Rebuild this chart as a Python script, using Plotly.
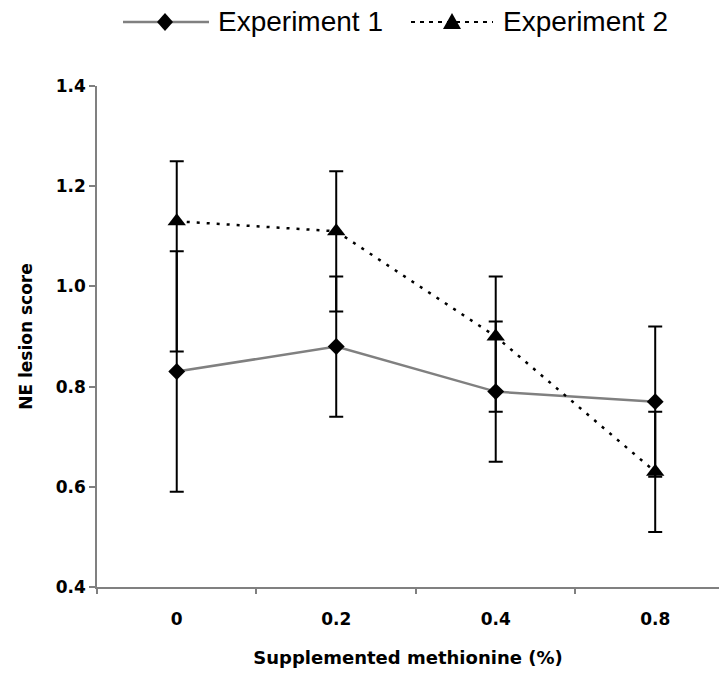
import plotly.graph_objects as go

categories = ["0", "0.2", "0.4", "0.8"]
exp1 = [0.83, 0.88, 0.79, 0.77]
exp1_err_plus = [0.24, 0.14, 0.14, 0.15]
exp1_err_minus = [0.24, 0.14, 0.14, 0.15]
exp2 = [1.13, 1.11, 0.90, 0.63]
exp2_err_plus = [0.12, 0.12, 0.12, 0.12]
exp2_err_minus = [0.26, 0.16, 0.15, 0.12]
series_names = ["Experiment 1", "Experiment 2"]
y_ticks = [0.4, 0.6, 0.8, 1.0, 1.2, 1.4]

W, H = 719, 677
L, R, T, B = 97, 0, 86, 90
FONT = "Liberation Sans, Arial, sans-serif"
BFONT = "DejaVu Sans, Arial, sans-serif"

fig = go.Figure()
fig.add_trace(go.Scatter(
    x=categories, y=exp1, mode="lines+markers", name=series_names[0],
    line=dict(color="#808080", width=2.5),
    marker=dict(symbol="diamond", size=13, color="black"),
    error_y=dict(type="data", array=exp1_err_plus, arrayminus=exp1_err_minus,
                 color="black", thickness=2, width=7),
    showlegend=False,
))
fig.add_trace(go.Scatter(
    x=categories, y=exp2, mode="lines+markers", name=series_names[1],
    line=dict(color="black", width=2.5, dash="3px,7px"),
    marker=dict(symbol="triangle-up", size=16, color="black"),
    error_y=dict(type="data", array=exp2_err_plus, arrayminus=exp2_err_minus,
                 color="black", thickness=2, width=7),
    showlegend=False,
))

pw = W - L - R
ph = H - T - B

def px2x(p):
    return (p - L) / pw

def py2y(p):
    return (H - B - p) / ph

ly = py2y(22)
shapes = []
annotations = []
# legend item 1
shapes.append(dict(type="line", xref="paper", yref="paper",
                   x0=px2x(123), x1=px2x(209), y0=ly, y1=ly,
                   line=dict(color="#808080", width=2.5)))
shapes.append(dict(type="path", xref="paper", yref="paper",
                   xsizemode="pixel", ysizemode="pixel",
                   xanchor=px2x(165), yanchor=ly,
                   path="M0,-9 L8,0 L0,9 L-8,0 Z",
                   fillcolor="black", line=dict(width=0)))
annotations.append(dict(text=series_names[0], xref="paper", yref="paper",
                        x=px2x(216), y=ly, xanchor="left", yanchor="middle",
                        showarrow=False, font=dict(family=FONT, size=28, color="black")))
# legend item 2
shapes.append(dict(type="line", xref="paper", yref="paper",
                   x0=px2x(411), x1=px2x(493), y0=ly, y1=ly,
                   line=dict(color="black", width=2, dash="4px,5px")))
shapes.append(dict(type="path", xref="paper", yref="paper",
                   xsizemode="pixel", ysizemode="pixel",
                   xanchor=px2x(452), yanchor=ly,
                   path="M-9,-7 L9,-7 L0,9 Z",
                   fillcolor="black", line=dict(width=0)))
annotations.append(dict(text=series_names[1], xref="paper", yref="paper",
                        x=px2x(501), y=ly, xanchor="left", yanchor="middle",
                        showarrow=False, font=dict(family=FONT, size=28, color="black")))

fig.update_layout(
    width=W, height=H,
    margin=dict(l=L, r=R, t=T, b=B, autoexpand=False),
    paper_bgcolor="white", plot_bgcolor="white",
    font=dict(family=FONT, color="black"),
    shapes=shapes, annotations=annotations,
    xaxis=dict(
        type="category", range=[-0.5, 3.40],
        showline=True, linecolor="#808080", linewidth=1.5,
        ticks="outside", tickson="boundaries", ticklen=5, tickcolor="#808080", tickwidth=1.5,
        showgrid=False, zeroline=False,
        tickfont=dict(family=BFONT, size=17, color="black", weight="bold"),
        ticklabelstandoff=16,
        title=dict(text="Supplemented methionine (%)", standoff=23,
                   font=dict(family=BFONT, size=18, color="black", weight="bold")),
        automargin=False,
    ),
    yaxis=dict(
        range=[0.4, 1.4], tickvals=y_ticks, tickformat=".1f",
        showline=True, linecolor="#808080", linewidth=1.5,
        ticks="outside", ticklen=6, tickcolor="#808080", tickwidth=1.5,
        showgrid=False, zeroline=False,
        tickfont=dict(family=BFONT, size=17, color="black", weight="bold"),
        title=dict(text="NE lesion score", standoff=19,
                   font=dict(family=BFONT, size=17, color="black", weight="bold")),
        automargin=False,
    ),
)

fig.write_html("out.html")
